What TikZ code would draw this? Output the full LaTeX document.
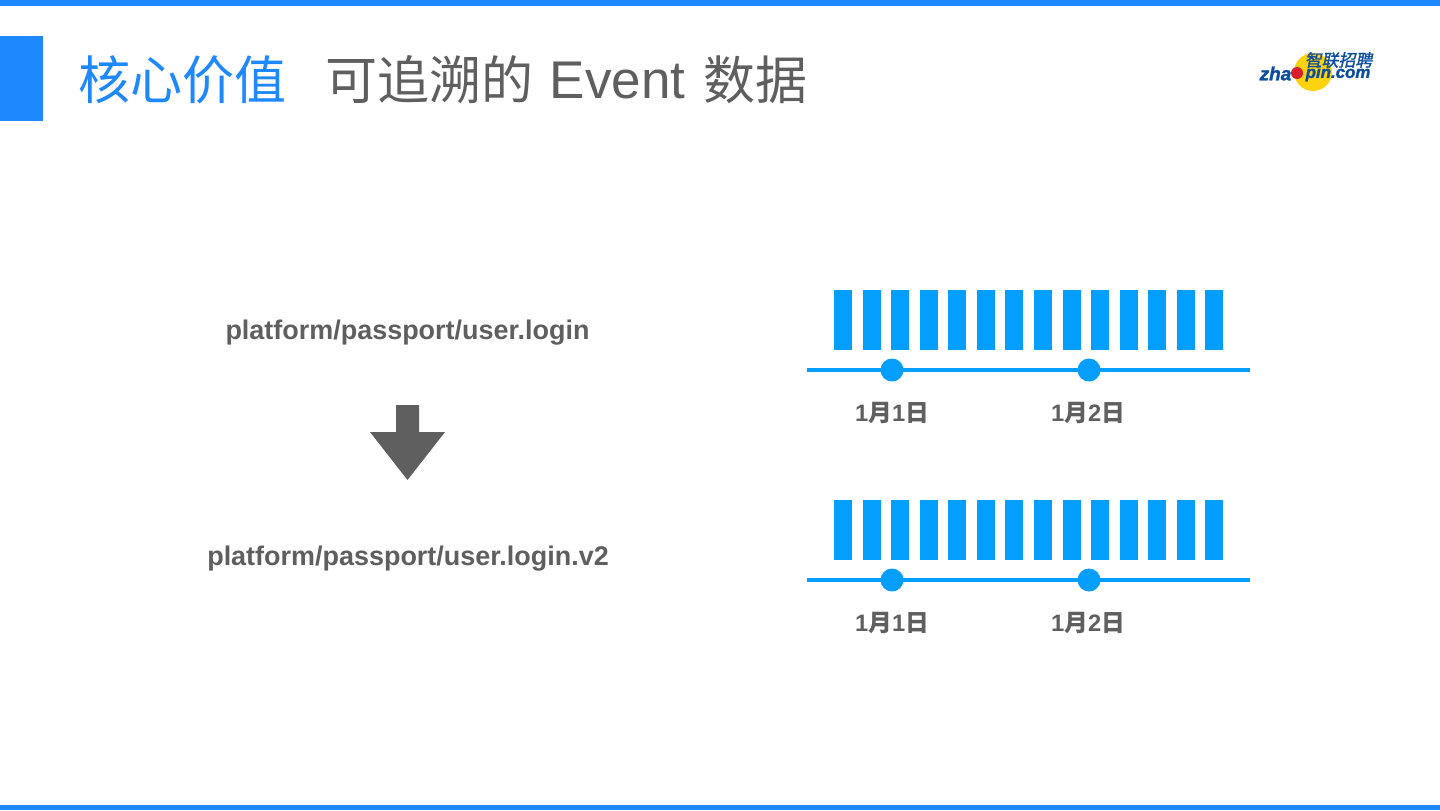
\documentclass[tikz,border=0pt]{standalone}
\usepackage{fontspec}
\setmainfont{Liberation Sans}
\newfontfamily\cjkfont{Noto Sans CJK SC}
\newfontfamily\logofont[FakeSlant=0.2,FakeBold=1.5]{Noto Sans CJK SC}
\newfontfamily\logolatin[FakeBold=1.5]{Liberation Sans}
\usetikzlibrary{calc}
\definecolor{bandblue}{HTML}{1E88FF}
\definecolor{tickblue}{HTML}{049FFE}
\definecolor{labelgray}{HTML}{5F5F5F}
\definecolor{logoblue}{HTML}{0B4EA2}
\definecolor{logoyellow}{HTML}{FDD20E}
\definecolor{logored}{HTML}{D8202C}
\tikzset{
    pathlabel/.style={text=labelgray, inner sep=0pt, font=\fontsize{7.67pt}{9pt}\selectfont\bfseries},
    daylabel/.style={text=labelgray, inner sep=0pt, font=\fontsize{6.75pt}{8pt}\selectfont\bfseries},
    titlelabel/.style={text=labelgray, inner sep=0pt, anchor=west, font=\fontsize{14.8pt}{18pt}\selectfont\cjkfont},
    logolabel/.style={inner sep=0pt, text=logoblue},
    timeline/.style={tickblue, line width=0.04cm},
    daydot/.style={circle, fill=tickblue, minimum size=0.23cm, inner sep=0pt},
}
\begin{document}
\begin{tikzpicture}
        \useasboundingbox (0,0) rectangle (14.4,8.1);
        \fill[white] (0,0) rectangle (14.4,8.1);
        \fill[bandblue] (0,8.04) rectangle (14.4,8.1);
        \fill[bandblue] (0,0) rectangle (14.4,0.05);
        \fill[bandblue] (0,6.89) rectangle (0.43,7.74);
        \node[titlelabel, text=bandblue] (title) at (0.78,7.3) {核心价值};
        \node[titlelabel] (subtitleA) at (3.25,7.3) {可追溯的};
        \node[titlelabel, font=\fontsize{15.1pt}{18pt}\selectfont] (subtitleB) at (5.49,7.3) {Event};
        \node[titlelabel] (subtitleC) at (7.03,7.3) {数据};
        % logo
        \fill[logoyellow] (13.13,7.38) circle (0.19);
        \fill[logored] (12.97,7.37) circle (0.06);
        \node[logolabel, font=\fontsize{4.8pt}{5pt}\selectfont\logofont] (logotop) at (13.385,7.5) {智联招聘};
        \node[logolabel, anchor=east, font=\fontsize{5.4pt}{6pt}\selectfont\logolatin\bfseries\itshape] (logoleft) at (12.92,7.365) {zha};
        \node[logolabel, anchor=west, font=\fontsize{4.8pt}{6pt}\selectfont\logolatin\bfseries\itshape] (logoright) at (13.05,7.365) {pin.com};
        % left side
        \node[pathlabel] (oldpath) at (4.075,4.77) {platform/passport/user.login};
        \node[pathlabel] (newpath) at (4.08,2.51) {platform/passport/user.login.v2};
        \fill[labelgray] (3.96,4.05) -- (4.19,4.05) -- (4.19,3.78) -- (4.45,3.78) -- (4.075,3.3) -- (3.7,3.78) -- (3.96,3.78) -- cycle;
        % upper bars
        \fill[tickblue] (8.34,4.6) rectangle (8.52,5.2);
        \fill[tickblue] (8.625,4.6) rectangle (8.805,5.2);
        \fill[tickblue] (8.91,4.6) rectangle (9.09,5.2);
        \fill[tickblue] (9.2,4.6) rectangle (9.38,5.2);
        \fill[tickblue] (9.48,4.6) rectangle (9.66,5.2);
        \fill[tickblue] (9.77,4.6) rectangle (9.95,5.2);
        \fill[tickblue] (10.05,4.6) rectangle (10.23,5.2);
        \fill[tickblue] (10.34,4.6) rectangle (10.52,5.2);
        \fill[tickblue] (10.63,4.6) rectangle (10.81,5.2);
        \fill[tickblue] (10.91,4.6) rectangle (11.09,5.2);
        \fill[tickblue] (11.2,4.6) rectangle (11.38,5.2);
        \fill[tickblue] (11.48,4.6) rectangle (11.66,5.2);
        \fill[tickblue] (11.77,4.6) rectangle (11.95,5.2);
        \fill[tickblue] (12.05,4.6) rectangle (12.23,5.2);
        \coordinate (upstart) at (8.07,4.4);
        \coordinate (upend) at (12.5,4.4);
        \draw[timeline] (upstart) -- (upend);
        \node[daydot] (updot1) at (8.92,4.4) {};
        \node[daydot] (updot2) at (10.89,4.4) {};
        \node[daylabel] (upday1) at (8.92,3.97) {1{\cjkfont 月}1{\cjkfont 日}};
        \node[daylabel] (upday2) at (10.88,3.97) {1{\cjkfont 月}2{\cjkfont 日}};
        % lower bars
        \fill[tickblue] (8.34,2.5) rectangle (8.52,3.1);
        \fill[tickblue] (8.625,2.5) rectangle (8.805,3.1);
        \fill[tickblue] (8.91,2.5) rectangle (9.09,3.1);
        \fill[tickblue] (9.2,2.5) rectangle (9.38,3.1);
        \fill[tickblue] (9.48,2.5) rectangle (9.66,3.1);
        \fill[tickblue] (9.77,2.5) rectangle (9.95,3.1);
        \fill[tickblue] (10.05,2.5) rectangle (10.23,3.1);
        \fill[tickblue] (10.34,2.5) rectangle (10.52,3.1);
        \fill[tickblue] (10.63,2.5) rectangle (10.81,3.1);
        \fill[tickblue] (10.91,2.5) rectangle (11.09,3.1);
        \fill[tickblue] (11.2,2.5) rectangle (11.38,3.1);
        \fill[tickblue] (11.48,2.5) rectangle (11.66,3.1);
        \fill[tickblue] (11.77,2.5) rectangle (11.95,3.1);
        \fill[tickblue] (12.05,2.5) rectangle (12.23,3.1);
        \coordinate (lowstart) at (8.07,2.3);
        \coordinate (lowend) at (12.5,2.3);
        \draw[timeline] (lowstart) -- (lowend);
        \node[daydot] (lowdot1) at (8.92,2.3) {};
        \node[daydot] (lowdot2) at (10.89,2.3) {};
        \node[daylabel] (lowday1) at (8.92,1.87) {1{\cjkfont 月}1{\cjkfont 日}};
        \node[daylabel] (lowday2) at (10.88,1.87) {1{\cjkfont 月}2{\cjkfont 日}};
    \end{tikzpicture}
\end{document}
